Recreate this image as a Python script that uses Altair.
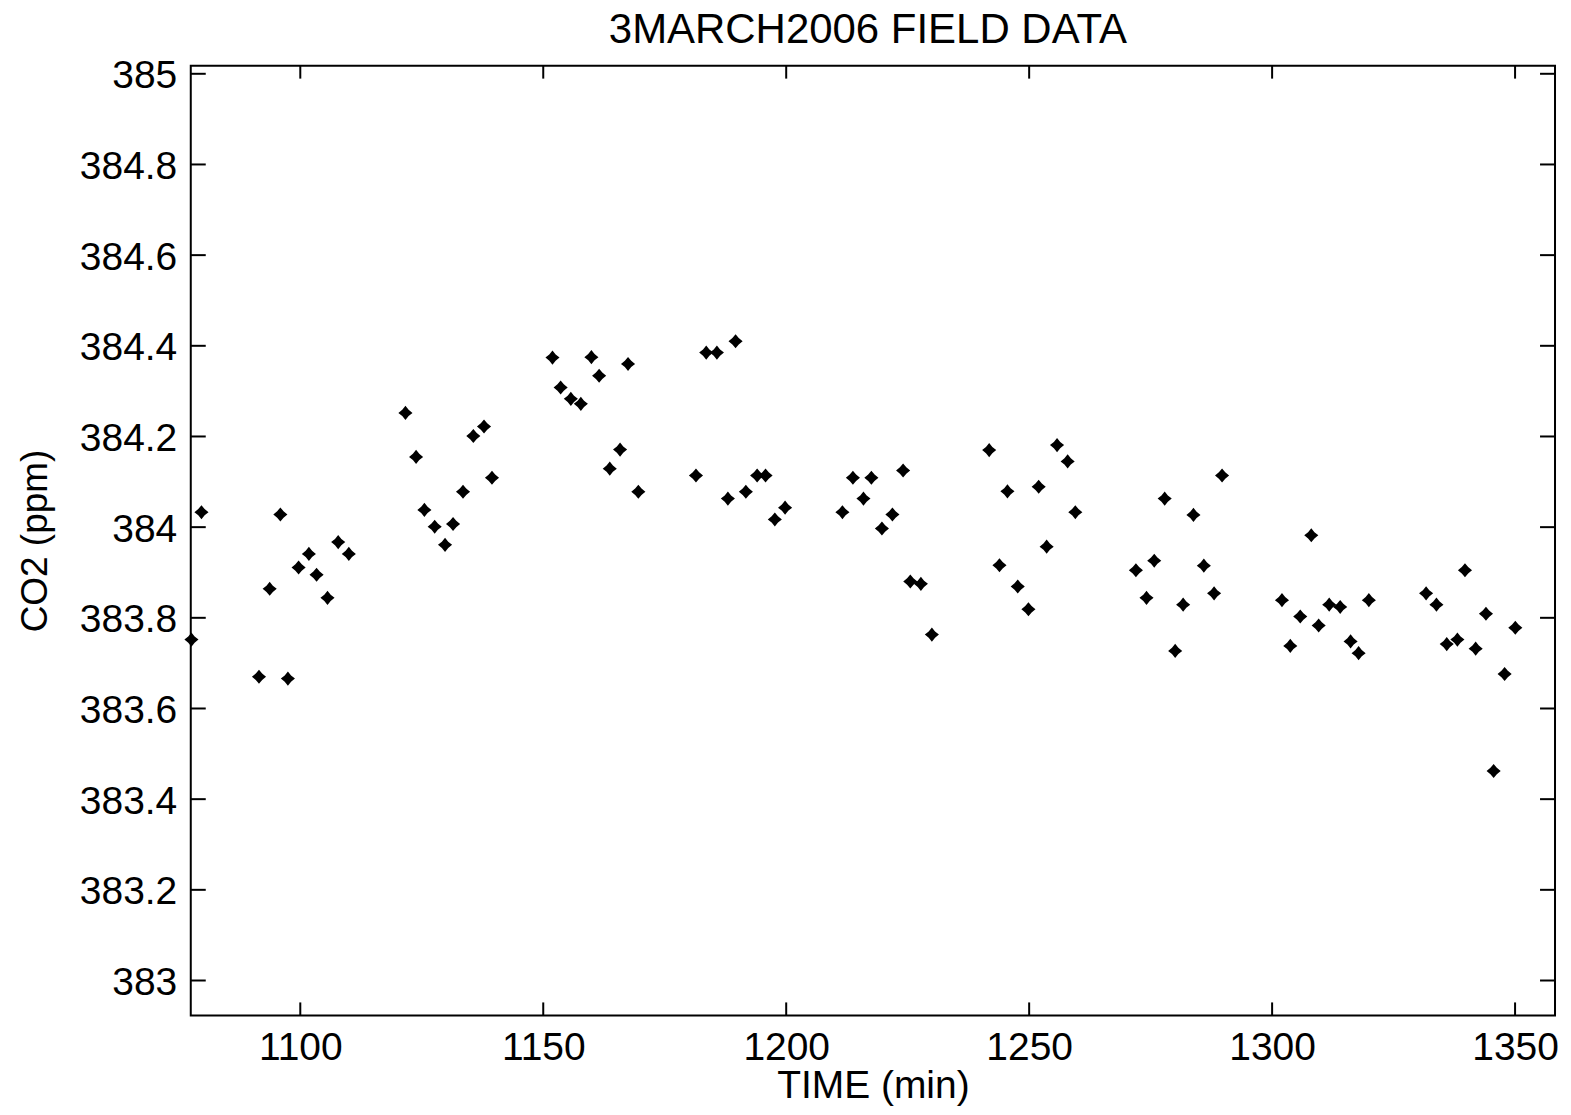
import altair as alt
import pandas as pd

# ---- data ----
time_min = [1077.6, 1079.66, 1091.5, 1093.7, 1095.9, 1097.45, 1099.65, 1101.77, 1103.35, 1105.6,
            1107.8, 1109.99, 1121.64, 1123.83, 1125.54, 1127.66, 1129.79, 1131.44, 1133.49, 1135.61,
            1137.81, 1139.45, 1151.9, 1153.58, 1155.68, 1157.74, 1159.91, 1161.5, 1163.69, 1165.81,
            1167.45, 1169.57, 1181.43, 1183.54, 1185.74, 1188.0, 1189.58, 1191.7, 1194.02, 1195.75,
            1197.66, 1199.77, 1211.57, 1213.73, 1215.9, 1217.53, 1219.7, 1221.86, 1224.06, 1225.54,
            1227.72, 1229.98, 1241.77, 1243.89, 1245.53, 1247.65, 1249.85, 1251.96, 1253.6, 1255.74,
            1257.92, 1259.5, 1271.97, 1274.15, 1275.74, 1277.89, 1280.05, 1281.69, 1283.81, 1285.95,
            1288.06, 1289.7, 1302.03, 1303.74, 1305.79, 1308.06, 1309.58, 1311.75, 1314.01, 1316.15,
            1317.8, 1319.91, 1331.69, 1333.82, 1335.94, 1338.13, 1339.69, 1341.89, 1344.01, 1345.59,
            1347.85, 1350.05]

co2_ppm = [383.752, 384.033, 383.670, 383.864, 384.028, 383.666, 383.911, 383.941, 383.895, 383.844,
           383.967, 383.941, 384.252, 384.155, 384.038, 384.001, 383.961, 384.007, 384.078, 384.201,
           384.222, 384.109, 384.374, 384.308, 384.283, 384.272, 384.375, 384.334, 384.129, 384.171,
           384.360, 384.078, 384.114, 384.385, 384.385, 384.063, 384.410, 384.078, 384.114, 384.114,
           384.017, 384.043, 384.033, 384.109, 384.063, 384.109, 383.997, 384.028, 384.125, 383.880,
           383.875, 383.763, 384.170, 383.916, 384.079, 383.869, 383.819, 384.089, 383.957, 384.181,
           384.145, 384.033, 383.905, 383.844, 383.926, 384.063, 383.727, 383.829, 384.027, 383.915,
           383.854, 384.114, 383.839, 383.738, 383.803, 383.982, 383.783, 383.829, 383.824, 383.748,
           383.722, 383.839, 383.854, 383.829, 383.742, 383.752, 383.905, 383.732, 383.809, 383.462,
           383.676, 383.778]

x_ticks = [1100, 1150, 1200, 1250, 1300, 1350]
y_ticks = [383.0, 383.2, 383.4, 383.6, 383.8, 384.0, 384.2, 384.4, 384.6, 384.8, 385.0]

x_domain = [1077.46, 1358.22]
y_domain = [382.923, 385.018]

title_text = "3MARCH2006 FIELD DATA"
x_title = "TIME (min)"
y_title = "CO2 (ppm)"

# ---- layout / style ----
W, H = 1366, 951
FONT = "Liberation Sans"
YTICK_LEN, XTICK_LEN = 15, 13
MARKER = "M0,-1L0.45,-0.45L1,0L0.45,0.45L0,1L-0.45,0.45L-1,0L-0.45,-0.45Z"

pts = pd.DataFrame({"time": time_min, "co2": co2_ppm})
xt = pd.DataFrame({"time": x_ticks})
yt = pd.DataFrame({"co2": y_ticks})

xscale = alt.Scale(domain=x_domain, nice=False, zero=False)
yscale = alt.Scale(domain=y_domain, nice=False, zero=False)

x_axis = alt.Axis(values=x_ticks, format="d", title=x_title,
                  labelPadding=13, titleBaseline="alphabetic", titleY=82, titleX=W / 2,
                  titleAlign="center", titleAnchor="middle")
y_axis = alt.Axis(values=y_ticks, format="~g", title=y_title,
                  labelPadding=14, labelBaseline="alphabetic", labelOffset=14,
                  titleBaseline="alphabetic", titleX=-144, titleY=H / 2, titleAngle=270,
                  titleAlign="center", titleFontSize=37)

X = alt.X("time:Q", scale=xscale, axis=x_axis)
Y = alt.Y("co2:Q", scale=yscale, axis=y_axis)

points = alt.Chart(pts).mark_point(
    shape=MARKER, filled=True, color="black", opacity=1, size=200, strokeWidth=0
).encode(x=X, y=Y)

rule_style = dict(color="black", strokeWidth=2)

left_ticks = alt.Chart(yt).mark_rule(**rule_style).encode(
    y=Y, x=alt.value(0), x2=alt.value(YTICK_LEN))
right_ticks = alt.Chart(yt).mark_rule(**rule_style).encode(
    y=Y, x=alt.value(W - YTICK_LEN), x2=alt.value(W))
bottom_ticks = alt.Chart(xt).mark_rule(**rule_style).encode(
    x=X, y=alt.value(H), y2=alt.value(H - XTICK_LEN))
top_ticks = alt.Chart(xt).mark_rule(**rule_style).encode(
    x=X, y=alt.value(0), y2=alt.value(XTICK_LEN))

chart = alt.layer(points, left_ticks, right_ticks, bottom_ticks, top_ticks).properties(
    width=W, height=H,
    title=alt.TitleParams(title_text, font=FONT, fontSize=42, fontWeight="normal",
                          color="black", anchor="middle", offset=5, dx=-5),
    autosize=alt.AutoSizeParams(type="none"),
    padding={"left": 183, "top": 57, "right": 8, "bottom": 91},
    background="white",
).configure_view(
    stroke="black", strokeWidth=2
).configure_axis(
    domain=False, ticks=False, tickSize=0, grid=False,
    labelFont=FONT, labelFontSize=39, labelColor="black",
    titleFont=FONT, titleFontSize=39, titleFontWeight="normal", titleColor="black",
)

chart.save("out.html", embed_options={"renderer": "svg", "actions": False})
